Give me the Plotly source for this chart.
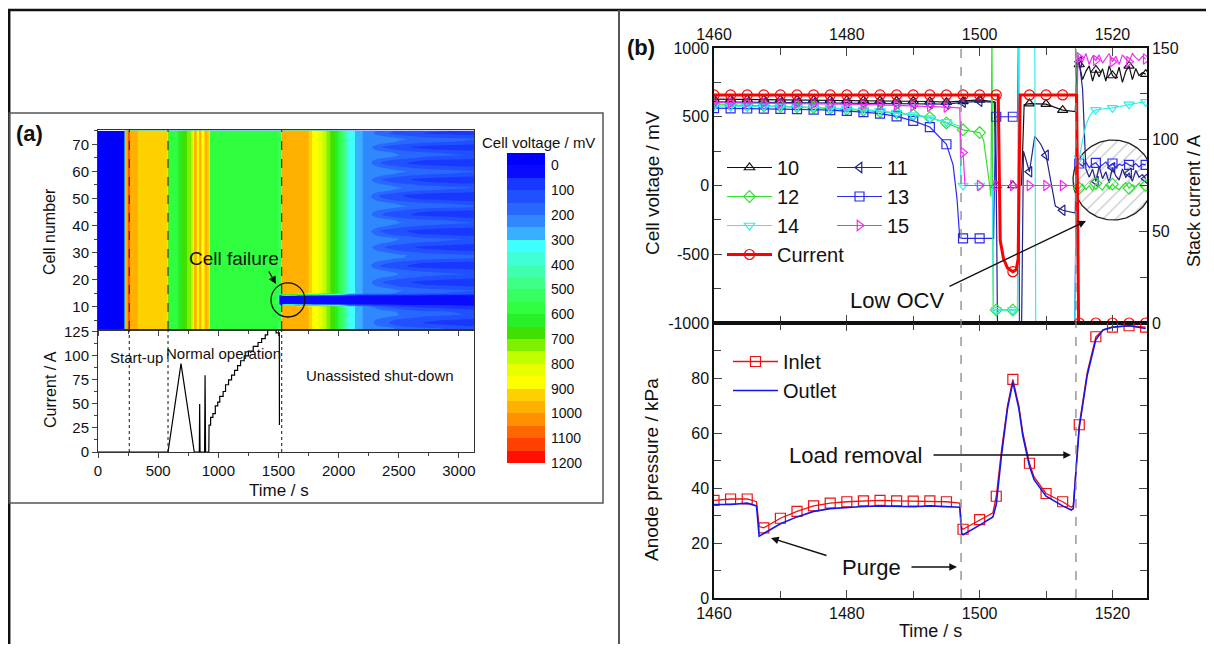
import numpy as np
import plotly.graph_objects as go

# The browser page keeps its default 8 px body margin, so the figure is drawn
# 16 px smaller and all reference pixel positions are shifted by that margin.
PAGE_W, PAGE_H, PAGE_MARGIN = 1214, 652, 8
W, H = PAGE_W - 2 * PAGE_MARGIN, PAGE_H - 2 * PAGE_MARGIN
FONT = "Liberation Sans, Arial, Helvetica, sans-serif"

# ===================== Panel (a) data =====================
hm_time = [0, 222, 226, 245, 256, 260, 266, 320, 340, 450,
           578, 588, 660, 690, 740, 780, 795, 800, 818, 822,
           838, 842, 856, 860, 884, 888, 905, 912, 925, 932,
           1100, 1300, 1450, 1500, 1512, 1520, 1530, 1700, 1745, 1790,
           1830, 1880, 1930, 1990, 2053, 2090, 2136, 2200, 2344, 2500,
           2700, 2950, 3125]
hm_normal = [-20, -20, 1000, 990, 1120, 1120, 980, 975, 930, 925,
             925, 590, 590, 650, 700, 760, 850, 980, 980, 880,
             880, 980, 980, 870, 870, 980, 980, 930, 930, 590,
             580, 570, 560, 550, 545, 540, 980, 980, 960, 880,
             850, 780, 700, 620, 450, 340, 300, 250, 200, 160,
             130, 115, 105]
hm_fail = [-20, -20, 1000, 990, 1120, 1120, 980, 975, 930, 925,
           925, 590, 590, 650, 700, 760, 850, 980, 980, 880,
           880, 980, 980, 870, 870, 980, 980, 930, 930, 590,
           580, 570, 560, 540, -100, 20, 30, 25, 25, 25,
           25, 25, 25, 25, 25, 25, 25, 25, 25, 25,
           25, 25, 25]
fail_cells = [11, 12, 13, 14]
cell_offset = [20, 30, -10, -30, -20, 10, 40, 35, -5, -40,
               0, 0, 0, 0, 30, 45, 10, -25, -45, -20,
               15, 40, 20, -15, -50, -35, 5, 45, 50, 15,
               -20, -40, -10, 25, 40, 0, -35, -50, -15, 20,
               45, 30, -10, -45, -30, 10, 50, 35, -5, -40,
               -55, -20, 25, 45, 15, -25, -45, -10, 30, 50,
               20, -15, -50, -30, 10, 40, 25, -20, -45, -5,
               35, 50, 10, -30, -15]
offset_from = 2250
n_cells = 75

band_lower = list(range(-50, 1200, 50))          # 25 colour bands
band_colors = ['#0000FF', '#0A0AFF', '#1838FF', '#2050FF', '#2868FF',
               '#3088FF', '#38B0FF', '#40FFFF', '#40FFD8', '#40FFB0',
               '#40FF88', '#38FF60', '#30FF40', '#28F028', '#40E000',
               '#80F000', '#C0FF00', '#E8FF00', '#FFFF00', '#FFD000',
               '#FFB000', '#FF9000', '#FF6800', '#FF4000', '#FF1000']
cbar_ticks = list(range(0, 1201, 100))

cur_t = [0, 582, 690, 800, 842, 845, 848, 886, 890, 894,
         921, 923, 936, 936, 955, 955, 975, 975, 995, 995,
         1012, 1012, 1040, 1040, 1060, 1060, 1085, 1085, 1110, 1110,
         1135, 1135, 1160, 1160, 1185, 1185, 1215, 1215, 1250, 1250,
         1290, 1290, 1330, 1330, 1360, 1360, 1390, 1390, 1410, 1410,
         1480, 1480, 1507, 1508]
cur_a = [0, 0, 92, 0, 0, 50, 0, 0, 80, 0,
         0, 28, 28, 36, 36, 40, 40, 48, 48, 52,
         52, 58, 58, 63, 63, 70, 70, 75, 75, 80,
         80, 85, 85, 90, 90, 95, 95, 100, 100, 105,
         105, 110, 110, 114, 114, 118, 118, 122, 122, 128,
         128, 124, 124, 28]

phase_t = [260, 582, 1527]
failure_t, failure_cell = 1579, 12.5

# ===================== Panel (b) data =====================
grid17 = [1460, 1462.5, 1465, 1467.5, 1470, 1472.5, 1475, 1477.5, 1480, 1482.5,
          1485, 1487.5, 1490, 1492.5, 1495, 1497.5, 1500]
tail_t = [1515.0, 1515.5, 1516.0, 1516.5, 1517.0, 1517.5, 1518.0, 1518.5, 1519.0, 1519.5,
          1520.0, 1520.5, 1521.0, 1521.5, 1522.0, 1522.5, 1523.0, 1523.5, 1524.0, 1524.5, 1525.0]

t10 = grid17 + [1502.2, 1502.5, 1505, 1506.3, 1506.7, 1507.5, 1510, 1512.5, 1514.4, 1514.7] + tail_t
v10 = [628, 627, 626, 625, 624, 623, 622, 621, 620, 619, 618, 616, 614, 611, 606, 612, 622,
       608, 0, 0, 0, 588, 596, 592, 548, 538, 900,
       880, 770, 830, 870, 760, 840, 790, 850, 760, 870, 800, 780, 860, 750, 830, 870, 770,
       850, 800, 820, 810]

t11 = grid17 + [1502.4, 1502.7, 1505, 1506.3, 1506.6, 1507.5, 1508.3, 1509.2, 1510, 1510.7,
                1511.4, 1512.5, 1514.4, 1514.7, 1515, 1515.5, 1516] + tail_t[3:]
v11 = [608, 607, 606, 605, 604, 603, 602, 601, 600, 599, 598, 597, 596, 594, 592, 605, 612,
       605, -1100, -1100, -1100, 250, 100, 360, 300, 220, 20, -150, -180, -200, 880, 900, 700, 120,
       60, 120, 30, 140, 50, 100, 20, 130, 70, 40, 120, 60, 90, 30, 110, 60, 80, 50]

t12 = grid17 + [1500.6, 1501.0, 1501.4, 1501.7, 1501.85, 1502.05, 1502.5, 1505, 1505.7, 1505.9,
                1507.5, 1510, 1512.5, 1514.4, 1514.7] + tail_t
v12 = [588, 586, 583, 580, 576, 572, 567, 561, 554, 546, 537, 528, 515, 495, 455, 405, 385,
       330, 200, 40, -80, 1100, -905, -905, -905, -905, 1100, 1100, 1100, 1100, 1100, -10,
       -20, 10, -30, 0, -40, 15, -10, -35, 5, -25, 10, -15, -30, 0, 20, -20, 5, -10, 15, -5, 0]

t13 = grid17[:15] + [1496, 1496.6, 1497.0, 1497.5, 1500, 1502.1, 1502.4, 1502.5, 1505, 1505.7,
                     1505.85, 1506.0, 1507.5, 1510, 1512.5, 1514.3, 1514.6] + tail_t
v13 = [562, 561, 560, 559, 557, 555, 552, 548, 542, 534, 522, 503, 470, 425, 300,
       150, -100, -380, -385, -385, -385, 500, 500, 500, 500, 1100, -1100, -1100, -1100, -1100,
       -1100, 150,
       160, 140, 170, 130, 155, 165, 135, 150, 170, 140, 160, 130, 155, 145, 165, 150, 140,
       160, 135, 155, 150]

t14 = grid17[:15] + [1497.0, 1497.2, 1497.5, 1500, 1501.9, 1502.1, 1502.5, 1505, 1505.7, 1505.85,
                     1507.5, 1508.3, 1508.45, 1510, 1512.5, 1514.3, 1514.6,
                     1515, 1515.5, 1516, 1516.5, 1517, 1517.5, 1518, 1519, 1520, 1521, 1522,
                     1522.5, 1523, 1524, 1525]
v14 = [578, 577, 576, 575, 573, 571, 568, 564, 559, 552, 543, 530, 512, 490, 462,
       432, 0, 0, 0, 0, -905, -905, -905, -905, 1100, 1100, 1100, -1100, -1100, -1100, -1100, 30,
       200, 330, 440, 500, 535, 550, 555, 560, 565, 575, 585, 590, 595, 602, 608]

t15 = grid17[:15] + [1497.0, 1497.2, 1497.5, 1497.8, 1500, 1502.5, 1505, 1507.5, 1510, 1512.5,
                     1514.5, 1514.8] + tail_t
v15 = [603, 602, 601, 600, 599, 598, 596, 594, 592, 589, 586, 583, 580, 576, 570,
       565, 240, 240, 0, 0, 0, 0, 0, 0, 0, 0, 950,
       930, 900, 960, 880, 940, 910, 950, 890, 930, 960, 900, 940, 880, 950, 920, 900, 960,
       930, 910, 940, 920]

tcur = grid17 + [1502.5, 1502.8, 1503.1, 1503.6, 1504.2, 1505, 1505.5, 1505.8, 1506.1, 1507.5,
                 1510, 1512.5, 1514.6, 1514.9, 1515, 1517.5, 1520, 1522.5, 1525]
vcur = [124.4, 124.4, 124.4, 124.4, 124.4, 124.4, 124.4, 124.4, 124.4, 124.4,
        124.4, 124.4, 124.4, 124.4, 124.4, 124.4, 124.4,
        124.4, 124.4, 45, 35, 30, 28, 29, 35, 124.4, 124.4,
        124.4, 124.4, 124.4, 0, 0, 0, 0, 0, 0]

tp = [1460, 1462.5, 1465, 1466.4, 1466.8, 1467.5, 1470, 1472.5, 1475, 1477.5,
      1480, 1482.5, 1485, 1487.5, 1490, 1492.5, 1495, 1497.0, 1497.3, 1497.5,
      1500, 1502.0, 1502.5, 1503.3, 1504.2, 1505, 1505.9, 1506.5, 1507.5, 1508.2,
      1510, 1512.5, 1513.8, 1514.1, 1514.6, 1515, 1516.2, 1517.5, 1518.6, 1520,
      1522.5, 1525]
p_inlet = [35.5, 36.0, 36.0, 35.0, 26.0, 25.5, 29.0, 31.5, 33.5, 34.5,
           35.0, 35.3, 35.5, 35.3, 35.2, 35.3, 35.0, 34.5, 25.5, 25.0,
           28.5, 31.0, 37.0, 54, 70, 79.5, 70, 60, 49, 44,
           38, 35, 33, 33.5, 50, 63, 82, 95, 97.5, 98.5,
           99, 98.5]
p_outlet = [34.0, 34.0, 34.5, 33.5, 22.5, 23.5, 27.0, 29.5, 31.5, 32.5,
            33.0, 33.3, 33.5, 33.3, 33.2, 33.5, 33.2, 33.0, 23.5, 23.0,
            26.5, 29.5, 34.0, 52, 69, 78.5, 69, 59, 48, 43,
            37, 33.5, 32.0, 32.5, 49, 62, 81, 94, 97.5, 98.5,
            99, 98]

event_t = [1497.2, 1514.5]
low_ocv_center, low_ocv_r = (1520.1, 40), (6.04, 291)
volt_ticks = [-1000, -500, 0, 500, 1000]

for a, b in [(hm_time, hm_normal), (hm_time, hm_fail), (cur_t, cur_a), (t10, v10), (t11, v11),
             (t12, v12), (t13, v13), (t14, v14), (t15, v15), (tcur, vcur), (tp, p_inlet), (tp, p_outlet)]:
    assert len(a) == len(b), (len(a), len(b))
assert len(cell_offset) == n_cells


# ===================== helpers (page pixel -> paper) =====================
def fx(p):
    return max(0.0, min(1.0, (p - PAGE_MARGIN) / W))


def fy(p):
    return max(0.0, min(1.0, 1 - (p - PAGE_MARGIN) / H))


fig = go.Figure()

# ---------- panel (a) heat map ----------
cells = list(range(1, n_cells + 1))
z = []
for c in cells:
    if c in fail_cells:
        z.append(list(hm_fail))
    else:
        off = cell_offset[c - 1]
        z.append([v + (off if t >= offset_from else 0) for t, v in zip(hm_time, hm_normal)])

cscale = [[i / 24, band_colors[i]] for i in range(25)]
fig.add_trace(go.Contour(x=hm_time, y=cells, z=z, xaxis='x', yaxis='y', colorscale=cscale,
                         autocontour=False,
                         contours=dict(start=0, end=1150, size=50, coloring='fill', showlines=False),
                         line=dict(width=0), showscale=False, hoverinfo='skip'))

fig.add_trace(go.Heatmap(x=[0], y=[b + 25 for b in band_lower], z=[[i] for i in range(25)],
                         colorscale=cscale, zmin=0, zmax=24, showscale=False,
                         xaxis='x3', yaxis='y3', hoverinfo='skip'))

fig.add_trace(go.Scatter(x=cur_t, y=cur_a, mode='lines', line=dict(color='black', width=1.2),
                         xaxis='x2', yaxis='y2', showlegend=False, hoverinfo='skip'))

# ---------- panel (b) ----------
theta = np.linspace(0, 2 * np.pi, 181)
fig.add_trace(go.Scatter(x=low_ocv_center[0] + low_ocv_r[0] * np.cos(theta),
                         y=low_ocv_center[1] + low_ocv_r[1] * np.sin(theta),
                         mode='lines', fill='toself', fillcolor='rgba(255,255,255,0)',
                         fillpattern=dict(shape='/', fgcolor='#777777', bgcolor='rgba(255,255,255,0)',
                                          size=9, solidity=0.12),
                         line=dict(color='#222222', width=1.3), xaxis='x4', yaxis='y4',
                         showlegend=False, hoverinfo='skip'))


def add_series(t, v, name, color, symbol, legend, xa='x4', ya='y4', width=1.2, msize=9,
               step=2.5, t0=1460):
    t = np.asarray(t, dtype=float)
    v = np.asarray(v, dtype=float)
    k = (t - t0) / step
    on = np.abs(k - np.round(k)) < 1e-6
    mk = dict(symbol=symbol, size=msize, color=color, line=dict(width=1.2, color=color))
    fig.add_trace(go.Scatter(x=t, y=v, mode='lines', line=dict(color=color, width=width),
                             xaxis=xa, yaxis=ya, showlegend=False, hoverinfo='skip'))
    if symbol is not None:
        fig.add_trace(go.Scatter(x=t[on], y=v[on], mode='markers', marker=mk,
                                 xaxis=xa, yaxis=ya, showlegend=False, hoverinfo='skip'))
        fig.add_trace(go.Scatter(x=[None], y=[None], mode='lines+markers', name=name,
                                 line=dict(color=color, width=width), marker=mk, legend=legend,
                                 xaxis=xa, yaxis=ya, hoverinfo='skip'))
    else:
        fig.add_trace(go.Scatter(x=[None], y=[None], mode='lines', name=name,
                                 line=dict(color=color, width=width), legend=legend,
                                 xaxis=xa, yaxis=ya, hoverinfo='skip'))


add_series(t10, v10, '10', '#111111', 'triangle-up-open', 'legend')
add_series(t11, v11, '11', '#22228C', 'triangle-left-open', 'legend2')
add_series(t12, v12, '12', '#33E033', 'diamond-open', 'legend')
add_series(t13, v13, '13', '#2A2AEE', 'square-open', 'legend2')
add_series(t14, v14, '14', '#30EEEE', 'triangle-down-open', 'legend')
add_series(t15, v15, '15', '#EE30EE', 'triangle-right-open', 'legend2')
add_series(tcur, vcur, 'Current', '#FF0000', 'circle-open', 'legend', ya='y5', width=3, msize=10)

add_series(tp, p_inlet, 'Inlet', '#EE1111', 'square-open', 'legend3', xa='x5', ya='y6',
           width=1.3, msize=10)
add_series(tp, p_outlet, 'Outlet', '#1515EE', None, 'legend3', xa='x5', ya='y6', width=1.6)

# ===================== axes =====================
tickfont_a = dict(family=FONT, size=15, color='#111')
tickfont_b = dict(family=FONT, size=16, color='#111')
xa_dom = [fx(98), fx(474)]
xb_dom = [fx(714), fx(1147)]
leg_font = dict(family=FONT, size=20, color='#111')

fig.update_layout(
    width=W, height=H,
    margin=dict(l=0, r=0, t=0, b=0, autoexpand=False),
    paper_bgcolor='white', plot_bgcolor='white',
    font=dict(family=FONT, color='#111'),
    xaxis=dict(domain=xa_dom, anchor='y', range=[0, 3125], showticklabels=False,
               ticks='outside', ticklen=5, tick0=0, dtick=500, showgrid=False, zeroline=False,
               minor=dict(ticks='outside', ticklen=3, tick0=0, dtick=250),
               showline=True, linecolor='#333', linewidth=1, mirror=True),
    yaxis=dict(domain=[fy(330), fy(130)], anchor='x', range=[1.4, 75.3], tick0=10, dtick=10,
               ticks='outside', ticklen=5, tickfont=tickfont_a, showgrid=False, zeroline=False,
               minor=dict(ticks='outside', ticklen=3, tick0=5, dtick=5),
               showline=True, linecolor='#333', linewidth=1, mirror=True),
    xaxis2=dict(domain=xa_dom, anchor='y2', range=[0, 3125], tick0=0, dtick=500,
                ticks='outside', ticklen=5, tickfont=tickfont_a, showgrid=False, zeroline=False,
                minor=dict(ticks='outside', ticklen=3, tick0=0, dtick=250),
                showline=True, linecolor='#333', linewidth=1, mirror=True),
    yaxis2=dict(domain=[fy(452), fy(330)], anchor='x2', range=[0, 127], tick0=0, dtick=25,
                ticks='outside', ticklen=5, tickfont=tickfont_a, showgrid=False, zeroline=False,
                minor=dict(ticks='outside', ticklen=3, tick0=0, dtick=12.5),
                showline=True, linecolor='#333', linewidth=1, mirror=True),
    xaxis3=dict(domain=[fx(507), fx(545)], anchor='y3', range=[-0.5, 0.5], visible=False),
    yaxis3=dict(domain=[fy(463), fy(153)], anchor='x3', range=[1200, -50], side='right',
                tickmode='array', tickvals=cbar_ticks, ticks='',
                tickfont=dict(family=FONT, size=14, color='#111'),
                showgrid=False, zeroline=False, showline=False, ticklabelstandoff=5),
    xaxis4=dict(domain=xb_dom, anchor='y4', side='top', range=[1460, 1525.2], tick0=1460, dtick=20,
                ticks='inside', ticklen=8, tickfont=tickfont_b, showgrid=False, zeroline=False,
                minor=dict(ticks='inside', ticklen=7, tick0=1460, dtick=10),
                showline=True, linecolor='#111', linewidth=1.5, mirror='ticks'),
    yaxis4=dict(domain=[fy(323), fy(48)], anchor='x4', range=[-1000, 1000], tickmode='array',
                tickvals=volt_ticks, ticktext=[str(v) for v in volt_ticks],
                ticks='inside', ticklen=8, tickfont=tickfont_b, showgrid=False, zeroline=False,
                minor=dict(ticks='inside', ticklen=7, tickmode='linear', tick0=-1000, dtick=250),
                showline=True, linecolor='#111', linewidth=1.5),
    yaxis5=dict(overlaying='y4', anchor='x4', side='right', range=[0, 150], tick0=0, dtick=50,
                ticks='inside', ticklen=8, tickfont=tickfont_b, showgrid=False, zeroline=False,
                minor=dict(ticks='inside', ticklen=7, tick0=0, dtick=25),
                showline=True, linecolor='#111', linewidth=1.5),
    xaxis5=dict(domain=xb_dom, anchor='y6', range=[1460, 1525.2], tick0=1460, dtick=20,
                ticks='inside', ticklen=8, tickfont=tickfont_b, showgrid=False, zeroline=False,
                minor=dict(ticks='inside', ticklen=7, tick0=1460, dtick=10),
                showline=True, linecolor='#111', linewidth=1.5, mirror='ticks'),
    yaxis6=dict(domain=[fy(598), fy(323)], anchor='x5', range=[0, 100], tickmode='array',
                tickvals=[0, 20, 40, 60, 80],
                ticks='inside', ticklen=8, tickfont=tickfont_b, showgrid=False, zeroline=False,
                minor=dict(ticks='inside', ticklen=7, tickmode='linear', tick0=0, dtick=10),
                showline=True, linecolor='#111', linewidth=1.5, mirror='ticks'),
    legend=dict(x=fx(722), y=fy(148), xanchor='left', yanchor='top', bgcolor='rgba(0,0,0,0)',
                font=leg_font, itemwidth=45, tracegroupgap=0),
    legend2=dict(x=fx(832), y=fy(148), xanchor='left', yanchor='top', bgcolor='rgba(0,0,0,0)',
                 font=leg_font, itemwidth=45, tracegroupgap=0),
    legend3=dict(x=fx(728), y=fy(342), xanchor='left', yanchor='top', bgcolor='rgba(0,0,0,0)',
                 font=leg_font, itemwidth=45, tracegroupgap=0),
)

# ===================== shapes =====================
shapes = []
shapes += [
    dict(type='line', xref='paper', yref='paper', x0=fx(7), x1=1, y0=fy(10), y1=fy(10),
         line=dict(color='#111', width=2.5)),
    dict(type='line', xref='paper', yref='paper', x0=0.001, x1=0.001, y0=fy(10), y1=0,
         line=dict(color='#111', width=2.5)),
    dict(type='line', xref='paper', yref='paper', x0=fx(619), x1=fx(619), y0=fy(10), y1=0,
         line=dict(color='#555', width=2)),
    dict(type='rect', xref='paper', yref='paper', x0=0.001, x1=fx(603), y0=fy(503), y1=fy(113),
         line=dict(color='#555', width=1.5)),
]
for t in phase_t:
    shapes.append(dict(type='line', xref='x', yref='y domain', x0=t, x1=t, y0=0, y1=1,
                       line=dict(color='#222', width=1, dash='dash')))
    shapes.append(dict(type='line', xref='x2', yref='y2 domain', x0=t, x1=t, y0=0, y1=1,
                       line=dict(color='#111', width=1, dash='dot')))
shapes.append(dict(type='circle', xref='x', yref='y', x0=failure_t - 141, x1=failure_t + 141,
                   y0=failure_cell - 6.3, y1=failure_cell + 6.3, line=dict(color='#111', width=1.3)))
for t in event_t:
    shapes.append(dict(type='line', xref='x4', yref='paper', x0=t, x1=t, y0=fy(598), y1=fy(48),
                       line=dict(color='#888', width=1.3, dash='dash')))
fig.update_layout(shapes=shapes)

# ===================== annotations =====================
ann = []


def txt(x, y, s, size, angle=0, bold=False):
    ann.append(dict(x=fx(x), y=fy(y), xref='paper', yref='paper', text=('<b>%s</b>' % s) if bold else s,
                    showarrow=False, textangle=angle, font=dict(family=FONT, size=size, color='#111'),
                    xanchor='center', yanchor='middle'))


def arrow(hx, hy, tx, ty):
    ann.append(dict(x=fx(hx), y=fy(hy), xref='paper', yref='paper', text='', showarrow=True,
                    ax=tx - hx, ay=ty - hy, axref='pixel', ayref='pixel', arrowhead=2,
                    arrowsize=1.1, arrowwidth=1.4, arrowcolor='#111', standoff=0, startstandoff=0))


txt(29, 133, '(a)', 22, bold=True)
txt(641, 48, '(b)', 22, bold=True)
txt(50, 232, 'Cell number', 16, -90)
txt(50, 390, 'Current / A', 16, -90)
txt(279, 490, 'Time / s', 17)
txt(538, 142, 'Cell voltage / mV', 15)
txt(234, 258, 'Cell failure', 19)
txt(136, 357, 'Start-up', 15)
txt(223, 353, 'Normal operation', 15)
txt(380, 375, 'Unassisted shut-down', 15)
txt(652, 183, 'Cell voltage / mV', 19, -90)
txt(1194, 201, 'Stack current / A', 18, -90)
txt(652, 470, 'Anode pressure / kPa', 19, -90)
txt(930, 631, 'Time / s', 18)
txt(897, 300, 'Low OCV', 22)
txt(856, 455, 'Load removal', 22)
txt(871, 567, 'Purge', 22)
arrow(276, 284, 268, 270)
arrow(1086, 221, 948, 287)
arrow(1071, 455, 932, 455)
arrow(771, 538, 828, 556)
arrow(957, 567, 910, 567)
fig.update_layout(annotations=ann)

fig.write_html("out.html", include_plotlyjs=True, config={'displayModeBar': False})
